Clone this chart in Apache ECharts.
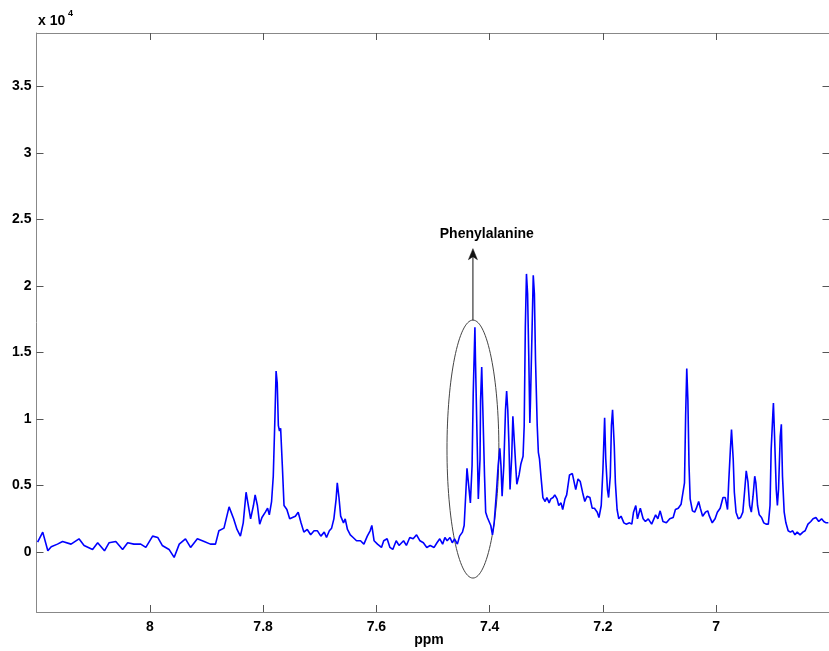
<!DOCTYPE html>
<html><head><meta charset="utf-8">
<script src="https://cdn.jsdelivr.net/npm/echarts@6/dist/echarts.min.js"></script>
<style>html,body{margin:0;padding:0;background:#fff}#c{width:829px;height:651px}</style>
</head><body><div id="c"></div>
<script>
// chemical shift (ppm) and intensity (x 10^4)
const ppm = [
8.198,8.189,8.180,8.174,8.163,8.154,8.139,8.125,8.116,8.101,8.092,8.080,8.072,8.060,8.048,8.039,8.028,8.016,8.007,7.995,7.986,7.978,7.966,7.957,7.948,7.937,7.928,7.916,7.904,7.893,7.884,7.878,7.869,7.860,
7.852,7.846,7.840,7.835,7.830,7.826,7.822,7.817,7.814,7.810,7.806,7.802,7.796,7.792,7.789,7.785,7.782,7.779,7.777,7.775,7.773,7.771,7.769,7.766,7.763,7.758,7.753,7.748,7.743,7.738,7.733,7.728,7.722,7.716,7.710,7.704,7.698,7.692,7.688,7.683,7.679,7.675,7.671,7.669,7.666,7.663,7.658,7.655,7.651,7.646,7.641,7.635,7.628,7.622,7.616,7.611,7.608,7.604,7.598,7.591,7.587,7.581,7.576,7.571,7.565,7.560,7.552,7.547,7.541,7.535,7.529,7.523,7.517,7.511,7.505,7.498,7.493,
7.488,7.483,7.479,7.475,7.470,7.466,7.462,7.457,7.453,7.448,7.445,7.442,7.440,7.437,7.434,7.431,7.429,7.426,7.425,7.422,7.420,7.417,7.416,7.414,7.412,7.409,7.407,7.404,7.401,7.398,7.395,7.392,7.388,7.385,7.382,7.380,7.378,7.375,7.372,7.370,7.368,7.366,7.364,7.361,7.359,7.356,7.354,7.352,7.348,7.345,7.341,7.339,7.337,7.335,7.333,7.331,7.329,7.328,7.325,7.323,7.321,7.319,7.316,7.314,7.312,7.309,7.306,7.302,7.299,7.295,7.292,7.288,7.285,7.281,7.278,7.274,7.271,7.267,7.264,
7.259,7.254,7.252,7.248,7.244,7.240,7.236,7.232,7.228,7.223,7.219,7.215,7.210,7.207,7.203,7.200,7.197,7.195,7.192,7.190,7.187,7.185,7.183,7.180,7.178,7.175,7.172,7.168,7.163,7.159,7.153,7.149,7.146,7.142,7.139,7.134,7.129,7.125,7.120,7.114,7.111,7.107,7.103,7.099,7.094,7.088,7.082,7.076,7.072,7.067,7.062,7.059,7.056,7.054,7.052,7.050,7.048,7.046,7.042,7.038,7.035,7.031,7.028,7.024,7.019,7.015,7.012,7.007,7.002,6.998,6.993,6.988,6.984,6.980,6.978,6.975,6.973,6.970,6.968,6.965,6.961,6.957,6.953,6.950,6.947,6.944,6.941,6.938,6.935,6.932,6.930,6.927,6.924,6.920,6.916,6.912,6.908,6.905,6.903,6.900,6.899,6.897,6.894,6.892,6.890,6.887,6.885,6.883,6.880,6.877,6.873,6.869,6.865,6.861,6.857,6.852,6.847,6.843,6.838,6.833,6.829,6.824,6.819,6.814,6.810,6.806,6.802
];
const intensity = [
0.075,0.15,0.01,0.04,0.06,0.08,0.06,0.10,0.05,0.02,0.07,0.01,0.07,0.08,0.02,0.07,0.06,0.06,0.035,0.12,0.11,0.05,0.02,-0.04,0.06,0.10,0.035,0.10,0.08,0.06,0.06,0.16,0.18,0.34,
0.25,0.17,0.12,0.22,0.45,0.35,0.25,0.35,0.43,0.35,0.21,0.26,0.30,0.33,0.28,0.38,0.57,1.02,1.36,1.27,0.95,0.91,0.93,0.65,0.35,0.32,0.25,0.26,0.27,0.30,0.22,0.15,0.17,0.13,0.16,0.16,0.12,0.15,0.11,0.16,0.18,0.25,0.40,0.52,0.41,0.27,0.22,0.25,0.17,0.13,0.11,0.085,0.085,0.06,0.12,0.16,0.20,0.085,0.06,0.035,0.085,0.10,0.035,0.02,0.085,0.05,0.085,0.05,0.11,0.10,0.13,0.085,0.07,0.035,0.05,0.035,0.07,
0.10,0.06,0.11,0.085,0.11,0.07,0.10,0.06,0.12,0.15,0.20,0.45,0.63,0.50,0.37,0.65,1.19,1.69,1.44,0.82,0.40,0.70,1.14,1.39,1.07,0.57,0.30,0.26,0.27,0.20,0.13,0.22,0.45,0.65,0.78,0.65,0.42,0.65,1.07,1.21,1.07,0.82,0.47,0.72,1.02,0.80,0.65,0.51,0.58,0.66,0.72,0.95,1.69,2.09,1.94,1.49,0.97,1.12,1.69,2.08,1.94,1.44,0.95,0.75,0.70,0.55,0.41,0.38,0.41,0.37,0.40,0.41,0.43,0.40,0.35,0.37,0.32,0.40,0.43,
0.58,0.59,0.58,0.47,0.55,0.53,0.45,0.38,0.42,0.41,0.33,0.33,0.30,0.26,0.35,0.62,1.01,0.70,0.47,0.41,0.57,0.95,1.07,0.80,0.52,0.32,0.25,0.27,0.22,0.21,0.22,0.21,0.30,0.35,0.25,0.33,0.25,0.23,0.25,0.21,0.22,0.28,0.25,0.31,0.23,0.22,0.25,0.26,0.32,0.33,0.36,0.37,0.52,1.02,1.38,1.14,0.65,0.40,0.31,0.30,0.33,0.38,0.33,0.27,0.30,0.31,0.27,0.22,0.25,0.30,0.33,0.41,0.41,0.32,0.52,0.77,0.92,0.70,0.45,0.30,0.25,0.26,0.30,0.45,0.61,0.53,0.35,0.30,0.42,0.57,0.52,0.35,0.28,0.26,0.22,0.21,0.21,0.35,0.77,1.04,1.12,0.87,0.47,0.35,0.47,0.87,0.96,0.57,0.30,0.22,0.16,0.15,0.16,0.13,0.15,0.13,0.15,0.16,0.21,0.23,0.25,0.26,0.23,0.25,0.23,0.22,0.22
];
const xTicks = [7, 7.2, 7.4, 7.6, 7.8, 8];
const yTicks = [0, 0.5, 1, 1.5, 2, 2.5, 3, 3.5];
const xName = 'ppm';
const yScaleText = 'x 10';
const yScaleExp = '4';
const annotationText = 'Phenylalanine';
// annotation anchors in data units (ppm, x10^4)
const ellipseCenter = [7.4295, 0.774];
const ellipseRadius = [0.0458, 0.969];
const arrowTip = [7.4295, 2.28];
const labelPos = [7.405, 2.386];

const FONT = '"Liberation Sans", Arial, Helvetica, sans-serif';
const AX = '#888888';
const chart = echarts.init(document.getElementById('c'), null, {renderer: 'canvas'});
const data = ppm.map((p, i) => [p, intensity[i]]);

const tickStyle = {show: true, inside: true, length: 7, lineStyle: {color: '#555', width: 1}};
const option = {
  animation: false,
  backgroundColor: '#fff',
  grid: {left: 36.5, top: 33, width: 793, height: 579, containLabel: false, outerBoundsMode: 'none'},
  xAxis: [{
    type: 'value', min: 6.8, max: 8.2, inverse: true, position: 'bottom',
    axisLine: {show: true, onZero: false, lineStyle: {color: AX, width: 1}},
    axisTick: Object.assign({customValues: xTicks}, tickStyle),
    axisLabel: {customValues: xTicks, color: '#000', fontWeight: 'bold', fontSize: 14, fontFamily: FONT, margin: 8},
    splitLine: {show: false}
  }, {
    type: 'value', min: 6.8, max: 8.2, inverse: true, position: 'top',
    axisLine: {show: true, onZero: false, lineStyle: {color: AX, width: 1}},
    axisTick: Object.assign({customValues: xTicks}, tickStyle),
    axisLabel: {show: false}, splitLine: {show: false}
  }],
  yAxis: [{
    type: 'value', min: -0.45, max: 3.9, position: 'left',
    axisLine: {show: true, onZero: false, lineStyle: {color: AX, width: 1}},
    axisTick: Object.assign({customValues: yTicks}, tickStyle),
    axisLabel: {customValues: yTicks, color: '#000', fontWeight: 'bold', fontSize: 14, fontFamily: FONT, margin: 5},
    splitLine: {show: false}
  }, {
    type: 'value', min: -0.45, max: 3.9, position: 'right',
    axisLine: {show: true, onZero: false, lineStyle: {color: AX, width: 1}},
    axisTick: Object.assign({customValues: yTicks}, tickStyle),
    axisLabel: {show: false}, splitLine: {show: false}
  }],
  series: [{
    type: 'line', xAxisIndex: 0, yAxisIndex: 0, data: data,
    symbol: 'none', showSymbol: false, smooth: false,
    lineStyle: {color: '#0000ff', width: 1.6}, clip: true
  }]
};
chart.setOption(option);

function px(v) { return chart.convertToPixel({xAxisIndex: 0, yAxisIndex: 0}, v); }
const c = px(ellipseCenter);
const e = px([ellipseCenter[0] - ellipseRadius[0], ellipseCenter[1] + ellipseRadius[1]]);
const rx = Math.abs(e[0] - c[0]), ry = Math.abs(c[1] - e[1]);
const tip = px(arrowTip);
const lab = px(labelPos);
const topY = c[1] - ry;
chart.setOption({
  graphic: [
    {type: 'ellipse', silent: true, shape: {cx: c[0], cy: c[1], rx: rx, ry: ry},
     style: {fill: 'none', stroke: '#444', lineWidth: 1}},
    {type: 'line', silent: true, shape: {x1: c[0], y1: topY, x2: c[0], y2: tip[1] + 4},
     style: {stroke: '#111', lineWidth: 1}},
    {type: 'polygon', silent: true,
     shape: {points: [[c[0], tip[1]], [c[0] - 4.5, tip[1] + 11], [c[0], tip[1] + 8], [c[0] + 4.5, tip[1] + 11]]},
     style: {fill: '#111', stroke: '#111', lineWidth: 0.5}},
    {type: 'text', silent: true, x: lab[0], y: lab[1],
     style: {text: annotationText, align: 'center', verticalAlign: 'middle', fill: '#000',
             font: 'bold 14px ' + FONT}},
    {type: 'text', silent: true, x: 429, y: 633,
     style: {text: xName, align: 'center', verticalAlign: 'top', fill: '#000', font: 'bold 14px ' + FONT}},
    {type: 'text', silent: true, x: 38, y: 14,
     style: {text: yScaleText, align: 'left', verticalAlign: 'top', fill: '#000', font: 'bold 14px ' + FONT}},
    {type: 'text', silent: true, x: 68, y: 9,
     style: {text: yScaleExp, align: 'left', verticalAlign: 'top', fill: '#000', font: 'bold 9px ' + FONT}}
  ]
});
</script>
</body></html>
